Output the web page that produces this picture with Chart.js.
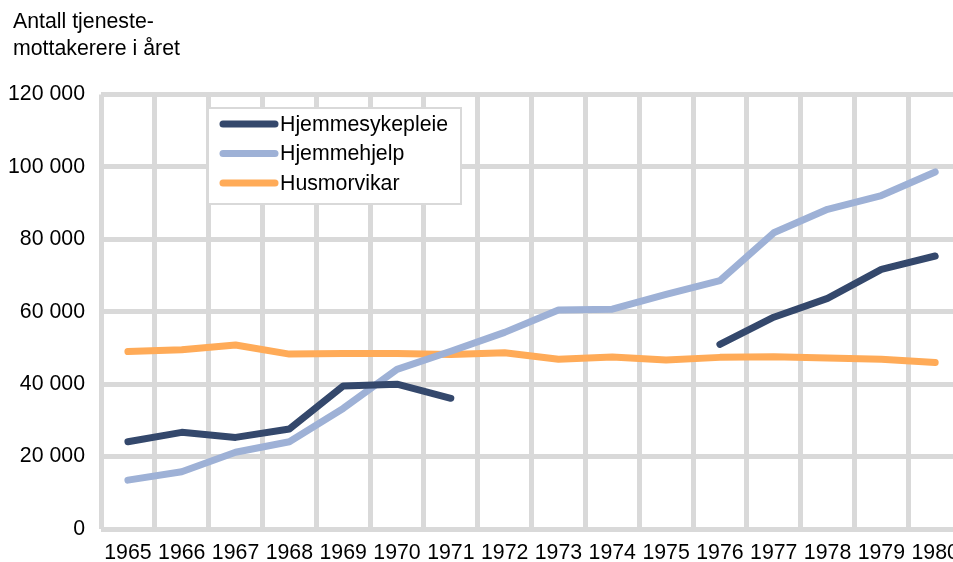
<!DOCTYPE html>
<html>
<head>
<meta charset="utf-8">
<script src="https://cdn.jsdelivr.net/npm/chart.js@4/dist/chart.umd.min.js"></script>
<style>
html,body{margin:0;padding:0;background:#fff;overflow:hidden;width:953px;height:562px;}
canvas{display:block;}
</style>
</head>
<body>
<canvas id="c" width="970" height="562"></canvas>
<script>
const years = ['1965','1966','1967','1968','1969','1970','1971','1972','1973','1974','1975','1976','1977','1978','1979','1980'];
const hjemmesykepleie = [24100, 26700, 25300, 27600, 39500, 40000, 36100, null, null, null, null, 51000, 58500, 63700, 71700, 75400];
const hjemmehjelp = [13500, 15800, 21200, 24100, 33300, 44100, 49100, 54300, 60500, 60700, 64800, 68600, 81800, 88300, 92100, 98600];
const husmorvikar = [49000, 49500, 50800, 48300, 48500, 48500, 48200, 48700, 46900, 47500, 46700, 47400, 47600, 47200, 46900, 46000];
const seriesNames = ['Hjemmesykepleie', 'Hjemmehjelp', 'Husmorvikar'];
const titleLines = ['Antall tjeneste-', 'mottakerere i året'];

const colors = ['#34486c', '#9eb1d6', '#ffab58'];
const FONT = 'Liberation Sans, Arial, sans-serif';
const FS = 21.3;
const fmt = v => String(v).replace(/\B(?=(\d{3})+(?!\d))/g, ' ');

const titlePlugin = {
  id: 'titleText',
  afterDraw(chart) {
    const ctx = chart.ctx;
    ctx.save();
    ctx.fillStyle = '#000';
    ctx.font = FS + 'px ' + FONT;
    ctx.textBaseline = 'alphabetic';
    ctx.textAlign = 'left';
    ctx.fillText(titleLines[0], 13, 28);
    ctx.fillText(titleLines[1], 13, 55);
    ctx.restore();
  }
};

const legendPlugin = {
  id: 'boxLegend',
  afterDraw(chart) {
    const ctx = chart.ctx;
    const x0 = 208, y0 = 108, w = 253, h = 96;
    ctx.save();
    ctx.fillStyle = '#fff';
    ctx.fillRect(x0, y0, w, h);
    ctx.strokeStyle = '#d9d9d9';
    ctx.lineWidth = 2;
    ctx.strokeRect(x0, y0, w, h);
    ctx.font = FS + 'px ' + FONT;
    ctx.textBaseline = 'middle';
    ctx.textAlign = 'left';
    chart.data.datasets.forEach((ds, i) => {
      const y = 124 + i * 29.5;
      ctx.strokeStyle = ds.borderColor;
      ctx.lineWidth = 7;
      ctx.lineCap = 'round';
      ctx.beginPath();
      ctx.moveTo(223, y);
      ctx.lineTo(275, y);
      ctx.stroke();
      ctx.fillStyle = '#000';
      ctx.fillText(ds.label, 280, y + 1);
    });
    ctx.restore();
  }
};

new Chart(document.getElementById('c'), {
  type: 'line',
  data: {
    labels: years,
    datasets: [hjemmesykepleie, hjemmehjelp, husmorvikar].map((d, i) => ({
      label: seriesNames[i],
      data: d,
      borderColor: colors[i],
      backgroundColor: colors[i],
      borderWidth: 7,
      pointRadius: 0,
      pointHoverRadius: 0,
      tension: 0,
      spanGaps: false,
      borderCapStyle: 'round',
      borderJoinStyle: 'round'
    }))
  },
  options: {
    responsive: false,
    animation: false,
    devicePixelRatio: 1,
    layout: { padding: { top: 94.5, right: 4, left: 0, bottom: 0 } },
    plugins: { legend: { display: false }, title: { display: false }, tooltip: { enabled: false } },
    scales: {
      x: {
        offset: true,
        grid: { offset: true, color: '#d9d9d9', lineWidth: 5, drawTicks: false },
        border: { display: false },
        ticks: { color: '#000', font: { family: FONT, size: FS }, padding: 11, maxRotation: 0, autoSkip: false },
        afterFit(s) { s.height = 33; }
      },
      y: {
        min: 0, max: 120000,
        grid: { color: '#d9d9d9', lineWidth: 5, drawTicks: false },
        border: { display: false },
        ticks: { stepSize: 20000, color: '#000', font: { family: FONT, size: FS }, padding: 16, callback: v => fmt(v) },
        afterFit(s) { s.width = 101; }
      }
    }
  },
  plugins: [titlePlugin, legendPlugin]
});
</script>
</body>
</html>
